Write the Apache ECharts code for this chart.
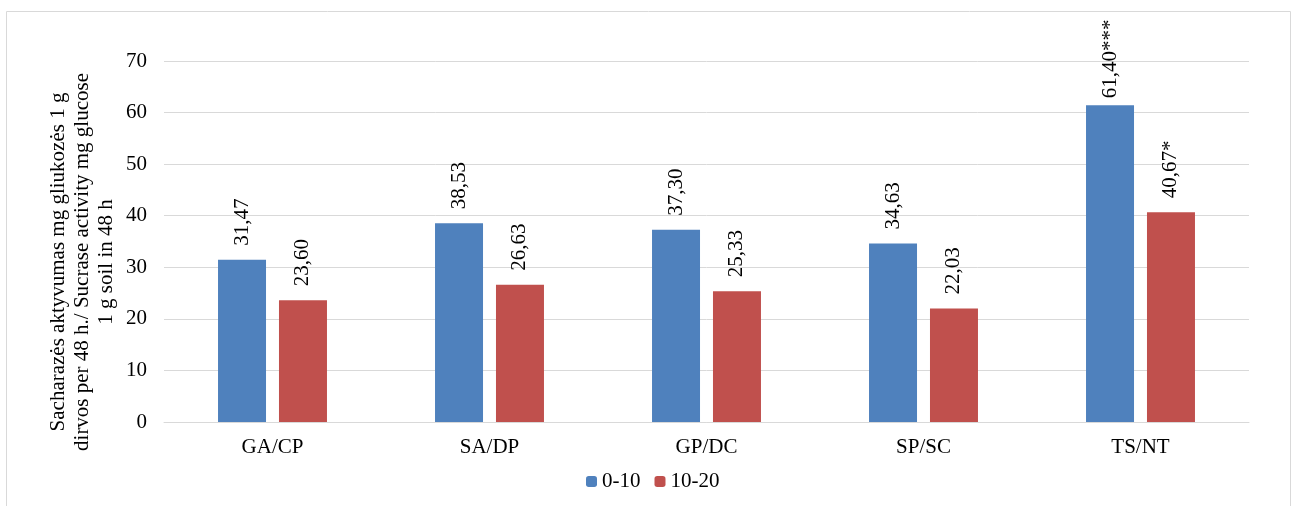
<!DOCTYPE html>
<html><head><meta charset="utf-8">
<script src="https://cdn.jsdelivr.net/npm/echarts@6/dist/echarts.min.js"></script>
<style>html,body{margin:0;padding:0;background:#fff}#c{width:1293px;height:506px}</style>
</head><body><div id="c"></div>
<script>
const categories = ['GA/CP', 'SA/DP', 'GP/DC', 'SP/SC', 'TS/NT'];
const seriesNames = ['0-10', '10-20'];
const values0_10 = [31.47, 38.53, 37.30, 34.63, 61.40];
const values10_20 = [23.60, 26.63, 25.33, 22.03, 40.67];
const labels0_10 = ['31,47', '38,53', '37,30', '34,63', '61,40***'];
const labels10_20 = ['23,60', '26,63', '25,33', '22,03', '40,67*'];
const yTitle = 'Sacharazės aktyvumas mg gliukozės 1 g\ndirvos per 48 h./ Sucrase activity mg glucose\n1 g soil in 48 h';

const font = 'Liberation Serif';
const chart = echarts.init(document.getElementById('c'));
function mk(name, vals, labs, color) {
  return {
    name: name, type: 'bar', barWidth: 48, barGap: '27%',
    data: vals.map((v, i) => ({value: v, label: {formatter: labs[i], distance: v > 60 ? 7 : 14}})),
    itemStyle: {color: color},
    label: {show: true, position: 'top', rotate: 90, align: 'left', verticalAlign: 'middle',
      fontFamily: font, fontSize: 21, color: '#000'}
  };
}
chart.setOption({
  animation: false,
  textStyle: {fontFamily: font},
  grid: {left: 164, right: 44, top: 61, bottom: 84, containLabel: false},
  legend: {top: 466, left: 581, itemWidth: 11, itemHeight: 11, itemGap: 14,
    textStyle: {fontFamily: font, fontSize: 21, color: '#000'},
    data: seriesNames},
  xAxis: {type: 'category', data: categories,
    axisLine: {lineStyle: {color: '#d9d9d9', width: 1}}, axisTick: {show: false},
    axisLabel: {fontFamily: font, fontSize: 21, color: '#000', margin: 15}},
  yAxis: {type: 'value', min: 0, max: 70, interval: 10,
    axisLine: {show: false}, axisTick: {show: false},
    splitLine: {lineStyle: {color: '#d9d9d9', width: 1}},
    axisLabel: {fontFamily: font, fontSize: 21, color: '#000', margin: 17}},
  graphic: [
    {type: 'rect', shape: {x: 6.5, y: 11.5, width: 1284, height: 520}, style: {fill: null, stroke: '#d9d9d9', lineWidth: 1}, silent: true},
    {type: 'text', x: 82, y: 262, rotation: Math.PI / 2,
      style: {text: yTitle, fontFamily: font, fontSize: 21, fill: '#000', align: 'center', verticalAlign: 'middle', lineHeight: 24}}
  ],
  series: [mk(seriesNames[0], values0_10, labels0_10, '#4F81BD'), mk(seriesNames[1], values10_20, labels10_20, '#C0504D')]
});
</script></body></html>
